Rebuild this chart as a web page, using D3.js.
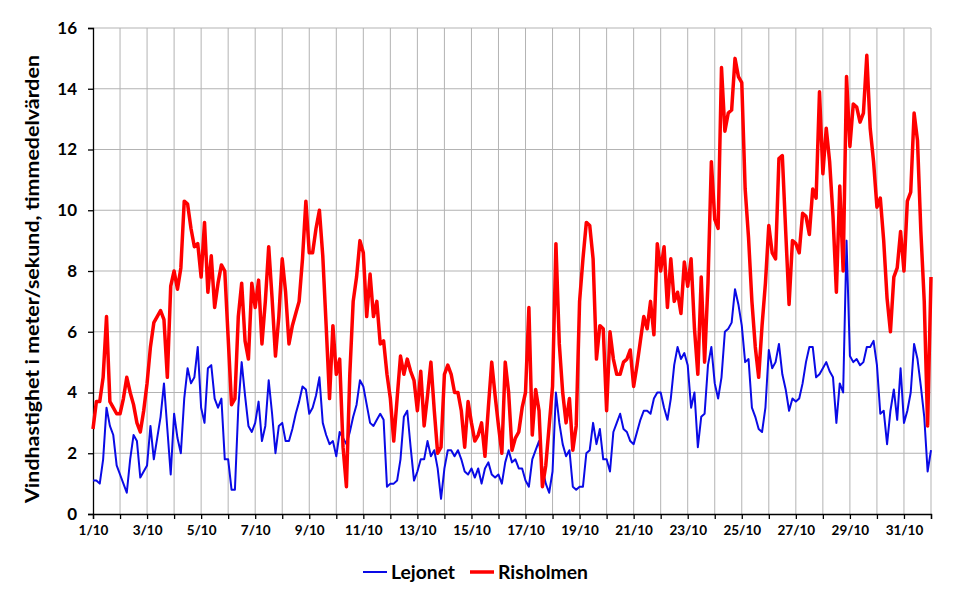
<!DOCTYPE html>
<html><head><meta charset="utf-8">
<script src="https://cdn.jsdelivr.net/npm/d3@7"></script>
<style>body{margin:0;background:#fff}svg{display:block}</style>
</head><body><svg id="c" width="969" height="592"></svg>
<script>
// 3-hourly readings (hours 0,3,...,21 each day, plus final point), m/s
const stepHours = 3;
const dayLabels = d3.range(1, 32).map(d => d + "/10");
const yTicks = [0, 2, 4, 6, 8, 10, 12, 14, 16];
const seriesNames = ["Lejonet", "Risholmen"];
const seriesColors = ["#0a0ae6", "#ff0000"];

const lejonet = [
1.1,1.1,1.0,1.8,3.5,2.9,2.6,1.6,
1.3,1.0,0.7,1.8,2.6,2.4,1.2,1.4,
1.6,2.9,1.8,2.5,3.2,4.3,2.8,1.3,
3.3,2.5,2.0,3.8,4.8,4.3,4.5,5.5,
3.5,3.0,4.8,4.9,3.8,3.5,3.8,1.8,
1.8,0.8,0.8,3.5,5.0,3.9,2.9,2.7,
3.0,3.7,2.4,2.9,4.4,3.3,2.0,2.9,
3.0,2.4,2.4,2.8,3.3,3.7,4.2,4.1,
3.3,3.5,3.9,4.5,3.0,2.6,2.3,2.4,
1.9,2.7,2.5,2.3,2.7,3.2,3.6,4.4,
4.2,3.6,3.0,2.9,3.1,3.3,3.1,0.9,
1.0,1.0,1.1,1.8,3.2,3.4,2.2,1.1,
1.4,1.8,1.8,2.4,1.9,2.1,1.5,0.5,
1.5,2.1,2.1,1.9,2.1,1.8,1.4,1.3,
1.5,1.2,1.5,1.0,1.5,1.7,1.3,1.2,
1.3,1.0,1.7,2.1,1.7,1.8,1.5,1.5,
1.1,0.9,1.8,2.1,2.4,1.5,1.0,0.7,
1.4,4.0,3.0,2.3,1.9,2.1,0.9,0.8,
0.9,0.9,2.0,2.1,3.0,2.3,2.8,1.8,
1.8,1.4,2.7,3.0,3.3,2.8,2.7,2.4,
2.3,2.7,3.1,3.4,3.4,3.3,3.8,4.0,
4.0,3.5,3.1,3.8,4.9,5.5,5.1,5.3,
4.9,3.5,4.0,2.2,3.2,3.3,4.9,5.5,
4.3,3.8,4.5,6.0,6.1,6.3,7.4,6.9,
6.2,5.0,5.1,3.5,3.2,2.8,2.7,3.5,
5.4,4.8,5.0,5.6,4.6,4.1,3.4,3.8,
3.7,3.8,4.3,5.0,5.5,5.5,4.5,4.6,
4.8,5.0,4.7,4.5,3.0,4.3,4.0,9.0,
5.2,5.0,5.1,4.9,5.0,5.5,5.5,5.7,
4.9,3.3,3.4,2.3,3.4,4.1,3.1,4.8,
3.0,3.4,4.0,5.6,5.1,4.2,3.2,1.4,
2.1];

const risholmen = [
2.8,3.7,3.7,4.5,6.5,3.7,3.5,3.3,
3.3,3.8,4.5,4.0,3.6,3.0,2.7,3.4,
4.3,5.5,6.3,6.5,6.7,6.4,4.5,7.5,
8.0,7.4,8.1,10.3,10.2,9.4,8.8,8.9,
7.8,9.6,7.3,8.5,6.8,7.6,8.2,8.0,
5.8,3.6,3.8,6.5,7.6,5.7,5.1,7.6,
6.8,7.7,5.6,7.0,8.8,7.1,5.2,6.5,
8.4,7.3,5.6,6.2,6.6,7.0,8.4,10.3,
8.6,8.6,9.4,10.0,8.5,6.2,3.8,6.2,
4.6,5.1,2.2,0.9,4.6,7.0,7.8,9.0,
8.6,6.5,7.9,6.5,7.0,5.6,5.7,4.6,
3.8,2.4,3.8,5.2,4.6,5.1,4.7,4.4,
3.4,4.7,2.9,3.9,5.0,3.4,2.0,2.2,
4.6,4.9,4.6,4.0,4.0,3.4,2.2,3.7,
3.0,2.4,2.6,3.0,1.9,3.5,5.0,3.9,
2.9,2.0,5.0,4.0,2.1,2.5,2.7,3.5,
4.0,6.8,2.6,4.1,3.4,0.9,1.6,2.9,
4.2,8.9,5.6,4.0,3.0,3.8,2.1,2.9,
7.0,8.4,9.6,9.5,8.4,5.1,6.2,6.1,
3.4,6.0,5.1,4.6,4.6,5.0,5.1,5.4,
4.2,4.9,5.7,6.5,6.1,7.0,5.9,8.9,
8.0,8.8,6.8,8.4,7.0,7.3,6.6,8.3,
7.5,8.4,6.1,4.6,7.8,5.0,7.6,11.6,
9.7,9.4,14.7,12.6,13.2,13.3,15.0,14.4,
14.2,10.7,9.1,7.0,5.5,4.5,6.2,7.6,
9.5,8.6,8.4,11.7,11.8,9.3,6.9,9.0,
8.9,8.6,9.9,9.8,9.2,10.7,10.4,13.9,
11.2,12.7,11.6,9.8,7.3,10.8,8.0,14.4,
12.1,13.5,13.4,12.9,13.2,15.1,12.7,11.6,
10.1,10.4,9.0,7.1,6.0,7.8,8.1,9.3,
8.0,10.3,10.6,13.2,12.3,9.3,7.0,2.9,
7.8];

const svg = d3.select("#c");
const m = {left: 93, right: 931, top: 28, bottom: 514};
const font = "Lato, 'Open Sans', sans-serif";

const x = d3.scaleLinear().domain([0, dayLabels.length * 24]).range([m.left, m.right]);
const y = d3.scaleLinear().domain([0, 16]).range([m.bottom, m.top]);

// gridlines
const g = svg.append("g");
g.selectAll("line.vg").data(d3.range(1, dayLabels.length + 1)).join("line")
  .attr("x1", d => x(d * 24)).attr("x2", d => x(d * 24))
  .attr("y1", m.top).attr("y2", m.bottom)
  .attr("stroke", "#b3b3b3").attr("stroke-width", 1);
g.selectAll("line.hg").data(yTicks.slice(1)).join("line")
  .attr("x1", m.left).attr("x2", m.right)
  .attr("y1", d => y(d)).attr("y2", d => y(d))
  .attr("stroke", "#b3b3b3").attr("stroke-width", 1);

// axes
const yAxis = d3.axisLeft(y).tickValues(yTicks).tickSize(5).tickPadding(11);
const ya = svg.append("g").attr("transform", `translate(${m.left},0)`).call(yAxis);
const xAxis = d3.axisBottom(x).tickValues(d3.range(0, dayLabels.length * 24 + 1, 24))
  .tickSize(5).tickPadding(6)
  .tickFormat((d, i) => (i % 2 === 0 && i < dayLabels.length) ? dayLabels[i] : "");
const xa = svg.append("g").attr("transform", `translate(0,${m.bottom})`).call(xAxis);
[ya, xa].forEach(a => {
  a.select(".domain").attr("stroke", "#000").attr("stroke-width", 1.3);
  a.selectAll(".tick line").attr("stroke", "#000").attr("stroke-width", 1.3);
  a.selectAll("text").attr("fill", "#000").attr("font-family", font).attr("font-weight", 700);
});
ya.selectAll("text").attr("font-size", 17);
xa.selectAll("text").attr("font-size", 13.5);

// lines
const line = d3.line().x((d, i) => x(i * stepHours)).y(d => y(d));
svg.append("path").datum(lejonet).attr("d", line)
  .attr("fill", "none").attr("stroke", seriesColors[0]).attr("stroke-width", 2).attr("stroke-linejoin", "round");
svg.append("path").datum(risholmen).attr("d", line)
  .attr("fill", "none").attr("stroke", seriesColors[1]).attr("stroke-width", 3.5).attr("stroke-linejoin", "round");

// y title
svg.append("text")
  .attr("transform", `translate(39,${279}) rotate(-90)`)
  .attr("text-anchor", "middle")
  .attr("font-family", font).attr("font-weight", 700).attr("font-size", 18.5)
  .attr("textLength", 448).attr("lengthAdjust", "spacingAndGlyphs")
  .text("Vindhastighet i meter/sekund, timmedelvärden");

// legend
const legX = [363, 470];
const legW = [64, 90];
seriesNames.forEach((n, i) => {
  svg.append("line").attr("x1", legX[i]).attr("x2", legX[i] + 24)
    .attr("y1", 572).attr("y2", 572)
    .attr("stroke", seriesColors[i]).attr("stroke-width", i ? 3.5 : 2);
  svg.append("text").attr("x", legX[i] + 28).attr("y", 579)
    .attr("font-family", font).attr("font-weight", 700).attr("font-size", 19.5)
    .attr("textLength", legW[i]).attr("lengthAdjust", "spacingAndGlyphs")
    .text(n);
});
</script>
</body></html>
